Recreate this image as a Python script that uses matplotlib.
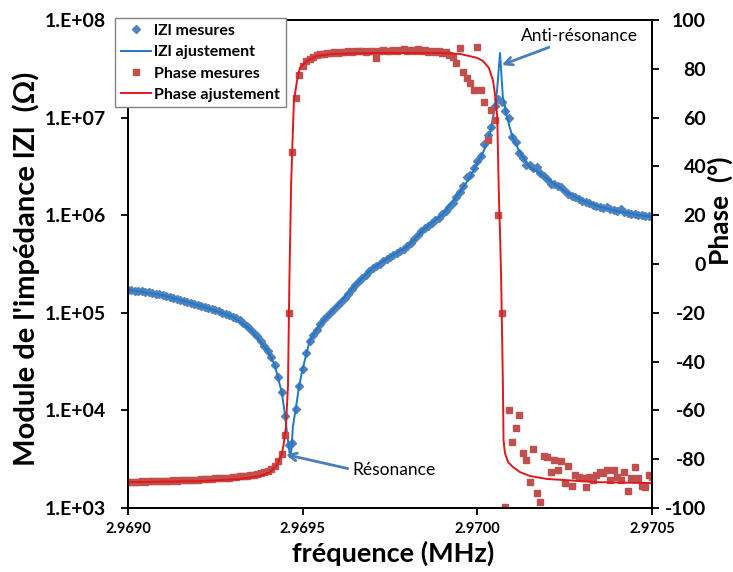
import numpy as np
import matplotlib
matplotlib.use('Agg')
import matplotlib.pyplot as plt
from matplotlib.ticker import FixedLocator, FuncFormatter, FormatStrFormatter, NullLocator

# measurement grid (MHz), 10 Hz steps from 2.9690 to 2.9705
freq = np.round(2.9690 + 0.00001 * np.arange(151), 5)

z_mes = [
    172400, 170800, 169200, 167200, 165600, 164100, 162500, 160600, 157600, 154300,
    151100, 147500, 144400, 141400, 138400, 135200, 132400, 129600, 126300, 123100,
    120200, 117100, 114400, 111500, 108600, 105800, 103300, 100500, 97200, 94100,
    91000, 88000, 85200, 79200, 73300, 67900, 62700, 57200, 51800, 46100,
    40600, 35500, 29100, 22200, 15400, 8740, 4380, 4680, 10300, 17900,
    26600, 39100, 51800, 59100, 66500, 76100, 86400, 93800, 101700, 110400,
    119900, 130200, 142400, 157600, 174000, 192500, 210600, 227700, 246000, 265300,
    286800, 302800, 319600, 336600, 355400, 375200, 394300, 413300, 434200, 455200,
    478100, 524200, 573300, 625700, 681200, 734200, 780600, 832000, 887000, 945000,
    1.019e6, 1.107e6, 1.202e6, 1.349e6, 1.529e6, 1.728e6, 1.971e6, 2.450e6, 2.579e6, 3.057e6,
    3.630e6, 4.000e6, 5.305e6, 6.653e6, 8.00e6, 1.318e7, 1.536e7, 1.448e7, 1.171e7, 9.9e6,
    6.35e6, 5.60e6, 4.30e6, 3.87e6, 3.30e6, 3.30e6, 3.04e6, 3.10e6, 2.69e6, 2.53e6,
    2.37e6, 2.10e6, 2.10e6, 1.98e6, 1.95e6, 1.765e6, 1.668e6, 1.587e6, 1.525e6, 1.468e6,
    1.414e6, 1.359e6, 1.318e6, 1.284e6, 1.251e6, 1.219e6, 1.188e6, 1.200e6, 1.144e6, 1.123e6,
    1.102e6, 1.150e6, 1.066e6, 1.051e6, 1.033e6, 1.019e6, 1.007e6, 9.95e5, 9.83e5, 9.74e5, 9.63e5,
]

# phase measured (degrees)
phase_mes = [
    -89.3, -89.4, -89.2, -89.3, -89.1, -89.2, -89.0, -89.1, -89.0, -88.9,
    -89.0, -88.8, -88.9, -88.7, -88.8, -88.6, -88.7, -88.5, -88.6, -88.4,
    -88.5, -88.3, -88.3, -88.1, -88.1, -87.9, -87.9, -87.7, -87.6, -87.5,
    -87.4, -87.2, -87.0, -86.9, -86.7, -86.5, -86.3, -86.0, -85.7, -85.3,
    -84.7, -83.9, -82.7, -80.8, -77.8, -70.0, -20.0, 46.0, 68.0, 77.5,
    81.0, 83.0, 84.2, 85.0, 85.5, 85.9, 86.2, 86.5, 86.3, 86.8,
    86.6, 87.0, 86.9, 87.2, 86.8, 87.3, 87.1, 87.4, 87.0, 87.5,
    87.2, 84.4, 87.3, 87.6, 87.1, 87.5, 87.8, 87.2, 87.6, 88.0,
    87.4, 87.9, 87.5, 88.1, 87.3, 87.7, 87.0, 87.4, 86.8, 87.2,
    86.5, 86.9, 85.5, 84.9, 82.4, 88.5, 78.5, 76.3, 74.2, 71.4,
    89.0, 71.4, 66.5, 51.0, 63.2, 59.1, 20.0, -20.2, -99.5, -59.9,
    -73.0, -67.3, -62.0, -77.5, -80.4, -89.4, -75.9, -93.9, -97.5, -78.7,
    -79.1, -85.3, -80.4, -84.5, -80.8, -89.8, -82.8, -91.0, -86.5, -87.3,
    -87.7, -91.4, -87.3, -88.5, -86.5, -85.3, -85.7, -84.5, -88.5, -84.5,
    -87.3, -88.5, -85.3, -93.0, -87.7, -83.2, -87.7, -91.0, -91.4, -86.5, -87.3,
]

# fitted |Z|
zfit_f = [2.96900, 2.96910, 2.96920, 2.96930, 2.96935, 2.96940, 2.96942, 2.96944,
          2.96945, 2.969455, 2.96946, 2.969464, 2.969468, 2.969472, 2.96948, 2.96949,
          2.96950, 2.96952, 2.96955, 2.96960, 2.96965, 2.96970, 2.96975, 2.96980,
          2.96985, 2.96990, 2.96995, 2.96998, 2.97000, 2.97002, 2.97003, 2.97004,
          2.97005, 2.970056, 2.97006, 2.970065, 2.970069, 2.970073, 2.97008, 2.970085,
          2.970093, 2.970102, 2.970122, 2.97015, 2.97020, 2.97025, 2.97030, 2.97035,
          2.97040, 2.97045, 2.97050]
zfit = [1.724e5, 1.511e5, 1.202e5, 9.10e4, 6.79e4, 4.06e4, 2.91e4, 1.54e4,
        8.74e3, 5.93e3, 4.36e3, 3.29e3, 3.97e3, 6.83e3, 1.03e4, 1.79e4,
        2.66e4, 5.18e4, 7.61e4, 1.199e5, 1.925e5, 2.868e5, 3.752e5, 4.781e5,
        7.342e5, 1.019e6, 1.728e6, 2.47e6, 3.44e6, 4.67e6, 5.77e6, 7.85e6,
        1.318e7, 1.83e7, 2.74e7, 4.59e7, 2.74e7, 1.63e7, 1.257e7, 1.017e7,
        7.85e6, 6.20e6, 4.35e6, 3.13e6, 2.37e6, 1.765e6, 1.414e6, 1.219e6,
        1.102e6, 1.019e6, 9.63e5]

# fitted phase
pfit_f = [2.969000, 2.969206, 2.969321, 2.969378, 2.969406, 2.969426, 2.969441, 2.969446,
          2.969452, 2.969458, 2.969462, 2.969467, 2.969472, 2.969475, 2.969484, 2.969492,
          2.969512, 2.969541, 2.969587, 2.969721, 2.969884, 2.969950, 2.969999, 2.970016,
          2.970033, 2.970045, 2.970053, 2.970057, 2.970059, 2.970062, 2.970065, 2.970068,
          2.970070, 2.970073, 2.970075, 2.970079, 2.970088, 2.970102, 2.970122, 2.970151,
          2.970199, 2.970245, 2.970342, 2.970500]
pfit = [-89.4, -89.0, -88.1, -86.9, -85.3, -82.4, -77.5, -73.4,
        -66.9, -49.7, -6.7, 33.0, 54.7, 67.0, 75.2, 80.4,
        83.2, 85.3, 86.1, 86.5, 86.5, 86.1, 84.5, 83.2,
        80.4, 75.1, 66.9, 60.0, 46.5, 26.0, 12.5, -4.7,
        -21.9, -47.6, -72.2, -77.5, -81.2, -83.2, -85.3, -86.9,
        -88.1, -88.5, -89.4, -89.8]

x_ticks = [2.9690, 2.9695, 2.9700, 2.9705]
z_ticks = [1e3, 1e4, 1e5, 1e6, 1e7, 1e8]
p_ticks = list(range(-100, 101, 20))

plt.rcParams['font.family'] = ['Lato', 'DejaVu Sans']
plt.rcParams['font.weight'] = 'bold'
plt.rcParams['axes.unicode_minus'] = False

fig = plt.figure(figsize=(7.33, 5.72), dpi=100)
ax = fig.add_axes([128 / 733, 1 - 508 / 572, 524 / 733, 488 / 572])
ax2 = ax.twinx()

ax.plot(freq, z_mes, ls='none', marker='D', ms=3.8, color='#4F81BD', label='lZl mesures')
ax.plot(zfit_f, zfit, color='#1F78C8', lw=1.4, label='lZl ajustement')
ax2.plot(freq, phase_mes, ls='none', marker='s', ms=3.8, color='#C0504D', label='Phase mesures')
ax2.plot(pfit_f, pfit, color='#E0181B', lw=1.4, label='Phase ajustement')

ax.set_yscale('log')
ax.set_ylim(1e3, 1e8)
ax.set_xlim(2.9690, 2.9705)
ax2.set_ylim(-100, 100)

ax.xaxis.set_major_locator(FixedLocator(x_ticks))
ax.xaxis.set_major_formatter(FormatStrFormatter('%.4f'))
ax.yaxis.set_major_locator(FixedLocator(z_ticks))
ax.yaxis.set_minor_locator(NullLocator())
ax.yaxis.set_major_formatter(FuncFormatter(lambda v, p: '1.E+%02d' % round(np.log10(v))))
ax2.yaxis.set_major_locator(FixedLocator(p_ticks))

ax.tick_params(axis='x', direction='out', length=5, width=1.3, labelsize=10.5, pad=5)
ax.tick_params(axis='y', direction='out', length=5, width=1.3, labelsize=14, pad=11)
ax2.tick_params(axis='y', direction='out', length=5, width=1.3, labelsize=14, pad=34)
for lbl in ax2.get_yticklabels():
    lbl.set_ha('right')

for a in (ax, ax2):
    for s in a.spines.values():
        s.set_linewidth(1.3)
        s.set_color('black')

ax.set_xlabel('fréquence (MHz)', fontsize=19.5, fontweight='bold', va='center')
ax.xaxis.set_label_coords(0.506, -0.092)
ax.set_ylabel("Module de l'impédance lZl  (Ω)", fontsize=21, fontweight='bold', va='center')
ax.yaxis.set_label_coords(-0.195, 0.49)
ax2.set_ylabel('Phase  (°)', fontsize=19, fontweight='bold', va='center')
ax2.yaxis.set_label_coords(1.13, 0.61)

arrow = dict(arrowstyle='->', color='#4A7EBB', lw=2, shrinkA=1, shrinkB=0, mutation_scale=14)
ax.annotate('Anti-résonance', xy=(2.970070, 3.46e7), xytext=(2.970291, 6.85e7),
            ha='center', va='center', fontsize=12.5, fontweight='normal', arrowprops=arrow)
ax.annotate('Résonance', xy=(2.969452, 3.53e3), xytext=(2.969641, 2.48e3),
            ha='left', va='center', fontsize=12.5, fontweight='normal',
            arrowprops=dict(arrow, relpos=(0, 0.5)))

h1, l1 = ax.get_legend_handles_labels()
h2, l2 = ax2.get_legend_handles_labels()
leg = fig.legend(h1 + h2, l1 + l2, loc='upper left', bbox_to_anchor=(115 / 733, 1 - 18 / 572),
                 fontsize=11.5, fancybox=False, edgecolor='#808080', framealpha=1,
                 handlelength=1.9, handletextpad=0.2, labelspacing=0.45, borderpad=0.35,
                 borderaxespad=0, numpoints=1)
leg.get_frame().set_linewidth(1.0)

fig.savefig('out.png', dpi=100)
